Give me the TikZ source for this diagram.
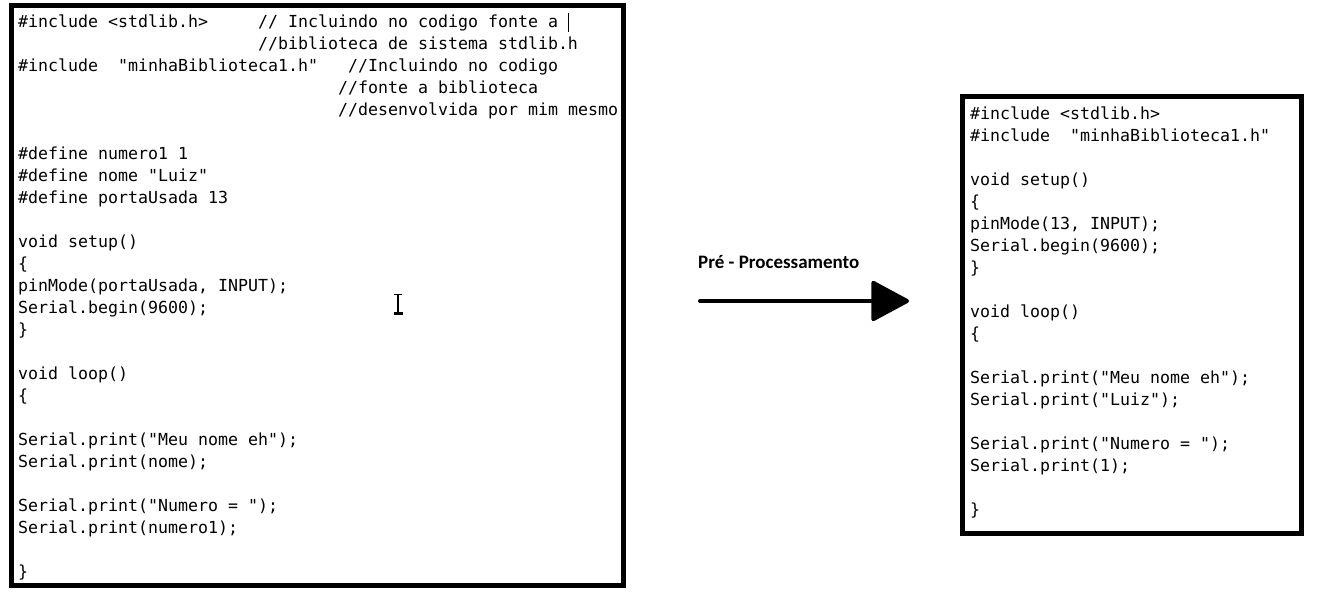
\documentclass[tikz,border=0pt]{standalone}
\usepackage{fontspec}
\newfontfamily\codefont{DejaVu Sans Mono}
\newfontfamily\labelfont{Carlito}
\usetikzlibrary{arrows.meta}
\begin{document}
\begin{tikzpicture}[x=1pt,y=-1pt,
  code/.style={anchor=base west, inner sep=0pt, font=\codefont\fontsize{16.6}{22}\selectfont},
  frame/.style={draw=black, line width=5pt, fill=white, inner sep=0pt, outer sep=0pt, anchor=north west},
  cursor/.style={draw=black, line width=1pt}]
\useasboundingbox (0,0) rectangle (1319,600);
\fill[white] (0,0) rectangle (1319,600);
% frames
\node[frame, minimum width=612pt, minimum height=579.5pt] (src) at (11.5,5.5) {};
\node[frame, minimum width=339pt, minimum height=436.5pt] (dst) at (962.5,96.5) {};
% left code
\node[code] (s1)  at (18,27)  {\#include <stdlib.h>};
\node[code] (c1)  at (258,27) {// Incluindo no codigo fonte a};
\node[code] (c2)  at (258,49) {//biblioteca de sistema stdlib.h};
\node[code] (s3)  at (18,71)  {\#include \ "minhaBiblioteca1.h"};
\node[code] (c3)  at (348,71) {//Incluindo no codigo};
\node[code] (c4)  at (338,93) {//fonte a biblioteca};
\node[code] (c5)  at (338,115) {//desenvolvida por mim mesmo};
\node[code] (s7)  at (18,159) {\#define numero1 1};
\node[code] (s8)  at (18,181) {\#define nome "Luiz"};
\node[code] (s9)  at (18,203) {\#define portaUsada 13};
\node[code] (s11) at (18,247) {void setup()};
\node[code] (s12) at (18,269) {\{};
\node[code] (s13) at (18,291) {pinMode(portaUsada, INPUT);};
\node[code] (s14) at (18,313) {Serial.begin(9600);};
\node[code] (s15) at (18,335) {\}};
\node[code] (s17) at (18,379) {void loop()};
\node[code] (s18) at (18,401) {\{};
\node[code] (s20) at (18,445) {Serial.print("Meu nome eh");};
\node[code] (s21) at (18,467) {Serial.print(nome);};
\node[code] (s23) at (18,511) {Serial.print("Numero = ");};
\node[code] (s24) at (18,533) {Serial.print(numero1);};
\node[code] (s26) at (18,577) {\}};
% right code
\node[code] (d1)  at (970,119) {\#include <stdlib.h>};
\node[code] (d2)  at (970,141) {\#include \ "minhaBiblioteca1.h"};
\node[code] (d4)  at (970,185) {void setup()};
\node[code] (d5)  at (970,207) {\{};
\node[code] (d6)  at (970,229) {pinMode(13, INPUT);};
\node[code] (d7)  at (970,251) {Serial.begin(9600);};
\node[code] (d8)  at (970,273) {\}};
\node[code] (d10) at (970,317) {void loop()};
\node[code] (d11) at (970,339) {\{};
\node[code] (d13) at (970,383) {Serial.print("Meu nome eh");};
\node[code] (d14) at (970,405) {Serial.print("Luiz");};
\node[code] (d16) at (970,449) {Serial.print("Numero = ");};
\node[code] (d17) at (970,471) {Serial.print(1);};
\node[code] (d19) at (970,515) {\}};
% text cursor after first comment
\coordinate (tcA) at (568,13);
\coordinate (tcB) at (568,32);
\draw[cursor] (tcA) -- (tcB);
% I-beam mouse cursor
\coordinate (ibT) at (398,294.5);
\coordinate (ibB) at (398,313.5);
\draw[cursor, line width=1.3pt] (ibT) -- (ibB);
\draw[cursor, line width=1.3pt] ([xshift=-4pt]ibT) -- ([xshift=4pt]ibT);
\draw[cursor, line width=2.2pt] ([xshift=-4.5pt]ibB) -- ([xshift=4.5pt]ibB);
% arrow
\node[anchor=base west, inner sep=0pt, font=\labelfont\bfseries\fontsize{19}{22}\selectfont] (lbl) at (698,268) {Pré - Processamento};
\coordinate (aS) at (700,301);
\coordinate (aE) at (909,301);
\draw[line width=4pt, line cap=round, -{Triangle[length=40pt,width=42pt,round]}] (aS) -- (aE);
\end{tikzpicture}
\end{document}
